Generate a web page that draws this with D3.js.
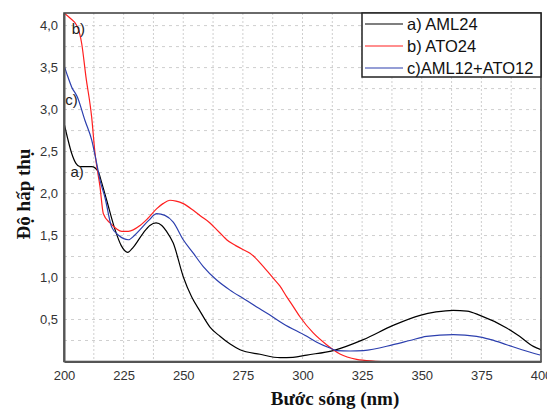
<!DOCTYPE html>
<html>
<head>
<meta charset="utf-8">
<script src="https://cdn.jsdelivr.net/npm/d3@7"></script>
<style>
  body { margin: 0; background: #fff; }
  svg text { font-family: "Liberation Sans", Arial, sans-serif; }
</style>
</head>
<body>
<svg id="chart" width="547" height="410"></svg>
<script>
// a) AML24
const amlData = [
  [200, 2.84], [201.5, 2.66], [203.2, 2.48], [205, 2.36], [206.7, 2.32], [211.6, 2.32],
  [214.4, 2.26], [215.5, 2.16], [217.9, 1.92], [221.4, 1.57], [224, 1.38], [226.7, 1.30],
  [229, 1.36], [233.2, 1.53], [236, 1.62], [238.6, 1.65], [241, 1.62], [243, 1.55],
  [245.8, 1.41], [250, 1.01], [253.5, 0.77], [257, 0.60], [261.2, 0.41], [265.4, 0.30],
  [269.5, 0.21], [273.8, 0.14], [282.2, 0.086], [290.6, 0.045], [296, 0.05], [301.8, 0.077],
  [312.9, 0.13], [325.5, 0.26], [338, 0.43], [349.3, 0.55], [356, 0.59], [363.2, 0.61],
  [369, 0.60], [374.4, 0.55], [385.6, 0.40], [391, 0.30], [396.8, 0.18], [400, 0.14]
];
// b) ATO24
const atoData = [
  [200, 4.15], [202.5, 4.09], [205.6, 3.99], [207.4, 3.79], [209.2, 3.39], [211.6, 2.91],
  [213, 2.48], [215.1, 2.08], [216.5, 1.76], [219.3, 1.65], [222, 1.58], [224.2, 1.55],
  [227, 1.55], [231.9, 1.62], [235, 1.70], [238.9, 1.82], [241.5, 1.88], [244.4, 1.92],
  [247, 1.91], [250, 1.88], [254.2, 1.80], [257.4, 1.73], [261.2, 1.65], [264, 1.57],
  [266.8, 1.49], [268.2, 1.45], [272, 1.38], [275.2, 1.33], [278, 1.29], [283.6, 1.13],
  [287.8, 0.99], [290.5, 0.90], [293.4, 0.77], [296, 0.66], [299, 0.53], [304.5, 0.34],
  [310.1, 0.20], [315.7, 0.09], [322.7, 0.026], [329.7, 0.006], [334.6, 0.0]
];
// c) AML12+ATO12
const mixData = [
  [200, 3.53], [201.5, 3.40], [203.2, 3.27], [205.6, 3.15], [208.8, 2.87], [211.6, 2.64],
  [213.7, 2.36], [215.1, 2.16], [217.2, 1.95], [220, 1.60], [223, 1.50], [227, 1.45],
  [229.5, 1.50], [231.9, 1.57], [235.5, 1.68], [238.9, 1.76], [242.3, 1.74], [245.8, 1.66],
  [250, 1.45], [254.2, 1.29], [258.4, 1.13], [264, 0.97], [269.6, 0.85], [275.2, 0.75],
  [280.8, 0.65], [286, 0.56], [291.9, 0.45], [301.8, 0.30], [306, 0.23], [311.5, 0.16],
  [314.3, 0.13], [320, 0.125], [325.5, 0.13], [338, 0.20], [345, 0.25], [352, 0.30],
  [363.2, 0.32], [373, 0.30], [379, 0.26], [385.6, 0.20], [392, 0.14], [399.6, 0.077]
];

const xTicks = [200, 225, 250, 275, 300, 325, 350, 375, 400];
const yTicks = [0.5, 1.0, 1.5, 2.0, 2.5, 3.0, 3.5, 4.0];
const seriesNames = ["a) AML24", "b) ATO24", "c)AML12+ATO12"];
const seriesColors = ["#000000", "#ff1f1f", "#2c3fae"];
const seriesData = [amlData, atoData, mixData];
const curveLabels = [
  { text: "a)", x: 202.7, y: 2.2 },
  { text: "b)", x: 203.2, y: 3.9 },
  { text: "c)", x: 200.5, y: 3.05 }
];

const svg = d3.select("#chart");
const plotLeft = 64, plotRight = 541, plotTop = 13, plotBottom = 361.5;

const x = d3.scaleLinear().domain([200, 400]).range([plotLeft, plotRight]);
const y = d3.scaleLinear().domain([0, 4.15]).range([plotBottom, plotTop]);

// dotted grid
svg.append("g")
  .selectAll("line")
  .data(d3.range(212.5, 400, 12.5))
  .enter()
  .append("line")
  .attr("x1", (d) => x(d)).attr("x2", (d) => x(d))
  .attr("y1", plotTop).attr("y2", plotBottom)
  .attr("stroke", "#cfcfcf")
  .attr("stroke-dasharray", "2,2");

svg.append("g")
  .selectAll("line")
  .data(d3.range(0.25, 4.15, 0.25))
  .enter()
  .append("line")
  .attr("x1", plotLeft).attr("x2", plotRight)
  .attr("y1", (d) => y(d)).attr("y2", (d) => y(d))
  .attr("stroke", "#cfcfcf")
  .attr("stroke-dasharray", "3,4");

svg.append("clipPath").attr("id", "clip")
  .append("rect")
  .attr("x", plotLeft).attr("y", plotTop)
  .attr("width", plotRight - plotLeft).attr("height", plotBottom - plotTop);

const line = d3.line()
  .x((d) => x(d[0]))
  .y((d) => y(d[1]))
  .curve(d3.curveMonotoneX);

svg.append("g")
  .attr("clip-path", "url(#clip)")
  .selectAll("path")
  .data(seriesData)
  .enter()
  .append("path")
  .attr("d", line)
  .attr("fill", "none")
  .attr("stroke", (d, i) => seriesColors[i])
  .attr("stroke-width", 1.2);

// frame
svg.append("rect")
  .attr("x", plotLeft).attr("y", plotTop)
  .attr("width", plotRight - plotLeft).attr("height", plotBottom - plotTop)
  .attr("fill", "none")
  .attr("stroke", "#3a3a3a")
  .attr("stroke-width", 1.5);

// axes
const xAxis = svg.append("g")
  .attr("transform", `translate(0,${plotBottom})`)
  .call(d3.axisBottom(x).tickValues(xTicks).tickSize(0).tickPadding(9));
xAxis.select(".domain").attr("stroke", "#555").attr("stroke-width", 2);
xAxis.selectAll("text").attr("font-size", 13).attr("fill", "#333")
  .style("font-family", "Liberation Sans, Arial, sans-serif");

const yAxis = svg.append("g")
  .attr("transform", `translate(${plotLeft},0)`)
  .call(d3.axisLeft(y).tickValues(yTicks).tickSize(0).tickPadding(6)
    .tickFormat((d) => d3.format(".1f")(d).replace(".", ",")));
yAxis.select(".domain").attr("stroke", "#555").attr("stroke-width", 2);
yAxis.selectAll("text").attr("font-size", 13).attr("fill", "#333")
  .style("font-family", "Liberation Sans, Arial, sans-serif");

// axis titles
svg.append("text")
  .attr("x", 335).attr("y", 405)
  .attr("text-anchor", "middle")
  .style("font-family", "Liberation Serif, Times New Roman, serif")
  .attr("font-weight", "bold")
  .attr("font-size", 19)
  .attr("fill", "#111")
  .text("Bước sóng (nm)");

svg.append("text")
  .attr("transform", "translate(30,194) rotate(-90)")
  .attr("text-anchor", "middle")
  .style("font-family", "Liberation Serif, Times New Roman, serif")
  .attr("font-weight", "bold")
  .attr("font-size", 19)
  .attr("fill", "#111")
  .text("Độ hấp thụ");

// curve labels
svg.append("g")
  .selectAll("text")
  .data(curveLabels)
  .enter()
  .append("text")
  .attr("x", (d) => x(d.x))
  .attr("y", (d) => y(d.y))
  .attr("font-size", 15)
  .attr("fill", "#222")
  .text((d) => d.text);

// legend
const legend = svg.append("g");
legend.append("rect")
  .attr("x", 362).attr("y", plotTop)
  .attr("width", plotRight - 362).attr("height", 64)
  .attr("fill", "#fff")
  .attr("stroke", "#222")
  .attr("stroke-width", 1.5);

const rows = legend.selectAll("g.row")
  .data(seriesNames)
  .enter()
  .append("g")
  .attr("class", "row")
  .attr("transform", (d, i) => `translate(0,${24 + i * 22})`);

rows.append("line")
  .attr("x1", 365).attr("x2", 403)
  .attr("y1", 0).attr("y2", 0)
  .attr("stroke", (d, i) => seriesColors[i])
  .attr("stroke-width", 1.2);

rows.append("text")
  .attr("x", 407).attr("y", 6)
  .attr("font-size", 16.5)
  .attr("fill", "#111")
  .text((d) => d);
</script>
</body>
</html>
